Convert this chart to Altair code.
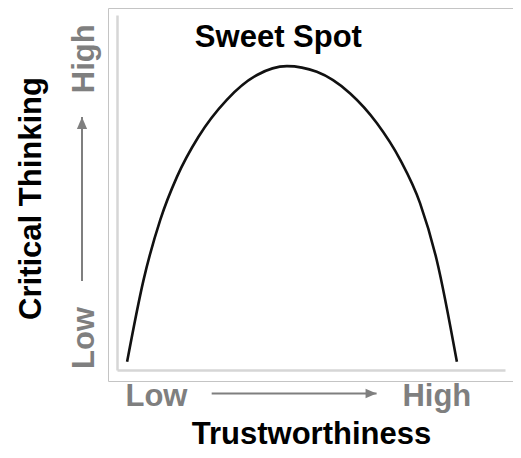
import altair as alt
import pandas as pd

# Curve (Trustworthiness 0-100, Critical Thinking 0-100)
trust = [2.6, 6.85, 11.15, 15.45, 21.0, 28.3, 36.1, 43.8, 51.5, 60.1, 67.0, 73.0, 78.1, 82.4, 87.6]
critical = [2.3, 25.4, 42.3, 54.4, 65.7, 76.1, 83.1, 85.6, 84.0, 77.9, 69.5, 59.2, 47.0, 31.0, 2.3]

# Axis label positions / texts
x_tick_values = [10.05, 82.3]
y_tick_values = [9.15, 87.8]
tick_labels = ["Low", "High"]

# Annotation
note_text = ["Sweet Spot"]
note_x = [41.6]
note_y = [91.1]

# Direction arrows (axis units along their own axis)
x_arrow = [24.4, 66.9]
y_arrow = [25.1, 71.3]

FONT = "Liberation Sans, Arial, sans-serif"
GRAY = "#7f7f7f"
FRAME = "#c4c4c4"

curve_df = pd.DataFrame({"t": trust, "c": critical})
note_df = pd.DataFrame({"label": note_text, "t": note_x, "c": note_y})
xarr_df = pd.DataFrame({"t": [x_arrow[0]], "t2": [x_arrow[1]]})
yarr_df = pd.DataFrame({"c": [y_arrow[0]], "c2": [y_arrow[1]]})
one = pd.DataFrame({"k": [0]})

label_expr = f"datum.value < 50 ? '{tick_labels[0]}' : '{tick_labels[1]}'"

xscale = alt.Scale(domain=[0, 100], nice=False, zero=False)
yscale = alt.Scale(domain=[0, 100], nice=False, zero=False)

x_axis = alt.Axis(
    title="Trustworthiness", values=x_tick_values, labelExpr=label_expr,
    grid=False, ticks=False, tickSize=0, domainColor="#d6d6d6", domainWidth=2.5,
    labelFont=FONT, labelFontSize=31, labelFontWeight="bold", labelColor=GRAY,
    labelBaseline="alphabetic", labelAlign="center", labelPadding=35,
    labelFlush=False, labelOverlap=False, labelBound=False,
    titleFont=FONT, titleFontSize=31, titleFontWeight="bold", titleColor="black",
    titleX=194, titleY=73, titleBaseline="alphabetic", titleAlign="center",
)
y_axis = alt.Axis(
    title="Critical Thinking", values=y_tick_values, labelExpr=label_expr,
    grid=False, ticks=False, tickSize=0, domainColor="#d6d6d6", domainWidth=2.5,
    labelFont=FONT, labelFontSize=31, labelFontWeight="bold", labelColor=GRAY,
    labelAngle=270, labelBaseline="alphabetic", labelAlign="center", labelPadding=24,
    labelFlush=False, labelOverlap=False, labelBound=False,
    titleFont=FONT, titleFontSize=31, titleFontWeight="bold", titleColor="black",
    titleAngle=270, titleX=-77, titleY=183, titleBaseline="alphabetic", titleAlign="center",
)

curve = alt.Chart(curve_df).mark_line(
    color="#111111", strokeWidth=2.6, interpolate="monotone"
).encode(
    x=alt.X("t:Q", scale=xscale, axis=x_axis),
    y=alt.Y("c:Q", scale=yscale, axis=y_axis),
)

note = alt.Chart(note_df).mark_text(
    font=FONT, fontSize=31, fontWeight="bold", color="black",
    align="center", baseline="alphabetic",
).encode(x="t:Q", y="c:Q", text="label:N")

# Direction arrows (custom symbol paths use [-1, 1] coordinates)
xarr_line = alt.Chart(xarr_df).mark_rule(color=GRAY, strokeWidth=2).encode(
    x="t:Q", x2="t2:Q", y=alt.value(378.5)
)
xarr_head = alt.Chart(xarr_df).mark_point(
    shape="M1,0L-1,-0.85L-1,0.85Z", filled=True, color=GRAY, opacity=1, size=121, xOffset=-5.5
).encode(x="t2:Q", y=alt.value(378.5))

yarr_line = alt.Chart(yarr_df).mark_rule(color=GRAY, strokeWidth=2).encode(
    y="c:Q", y2="c2:Q", x=alt.value(-35)
)
yarr_head = alt.Chart(yarr_df).mark_point(
    shape="M0,-1L-0.85,1L0.85,1Z", filled=True, color=GRAY, opacity=1, size=144, yOffset=6
).encode(y="c2:Q", x=alt.value(-35))

# Outer light frame
frame_left = alt.Chart(one).mark_rule(color=FRAME, strokeWidth=1).encode(
    x=alt.value(-8.5), y=alt.value(-6.5), y2=alt.value(366.5)
)
frame_top = alt.Chart(one).mark_rule(color=FRAME, strokeWidth=1).encode(
    x=alt.value(-8.5), x2=alt.value(420), y=alt.value(-6.5)
)
frame_bottom = alt.Chart(one).mark_rule(color=FRAME, strokeWidth=1).encode(
    x=alt.value(-8.5), x2=alt.value(420), y=alt.value(366.5)
)

chart = alt.layer(
    frame_left, frame_top, frame_bottom,
    curve, note, xarr_line, xarr_head, yarr_line, yarr_head,
).properties(
    width=388, height=355,
    autosize=alt.AutoSizeParams(type="none"),
    padding={"left": 109, "top": 7, "right": 8, "bottom": 80},
    background="white",
).configure_view(stroke=None)

chart.save("out.html", embed_options={"renderer": "svg", "actions": False})
